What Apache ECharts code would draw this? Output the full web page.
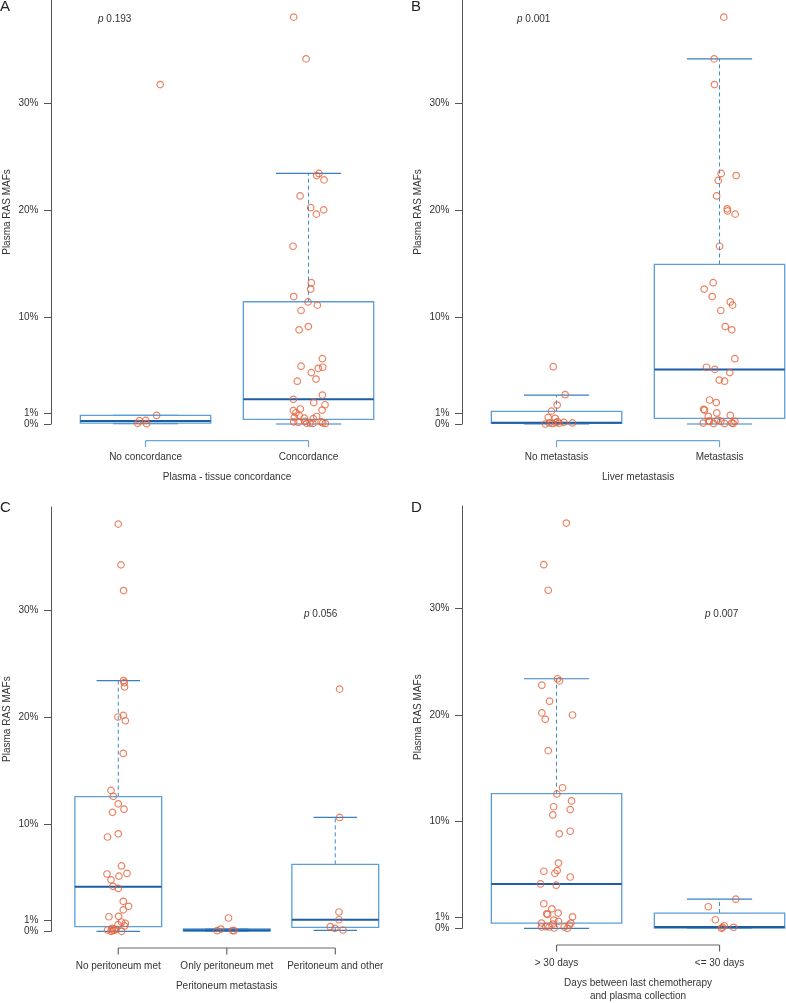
<!DOCTYPE html>
<html><head><meta charset="utf-8">
<script src="https://cdn.jsdelivr.net/npm/echarts@6/dist/echarts.min.js"></script>
<style>html,body{margin:0;padding:0;background:#fff;overflow:hidden}#c{width:840px;height:1003px}</style>
</head><body><div id="c"></div>
<script>
// ---------- DATA ----------
const yTicks = [0, 1, 10, 20, 30];
const panelLetters = ['A', 'B', 'C', 'D'];
const pValues = ['0.193', '0.001', '0.056', '0.007'];
const yAxisTitle = 'Plasma RAS MAFs';

const catsA = ['No concordance', 'Concordance'];
const titleA = 'Plasma - tissue concordance';
const valsA1 = [31.7, 0.8, 0.34, 0.31, 0.06, 0.03];
const jitA1 = [0.09, 0.068, 0.001, -0.038, -0.048, 0.007];
const valsA2 = [38.0, 34.1, 23.4, 23.2, 22.8, 21.3, 20.2, 20.0, 19.6, 16.6, 13.2, 12.6, 11.9, 11.4, 11.1, 10.6, 9.1, 8.8, 6.1, 5.4, 5.3, 5.2, 4.8, 4.2, 4.0, 2.7, 2.3, 2.0, 1.8, 1.4, 1.3, 1.25, 1.05, 0.8, 0.7, 0.6, 0.55, 0.5, 0.25, 0.2, 0.2, 0.15, 0.1, 0.1, 0.07, 0.05, 0.05];
const jitA2 = [-0.091, -0.015, 0.064, 0.05, 0.095, -0.052, 0.013, 0.093, 0.048, -0.095, 0.017, 0.013, -0.091, -0.003, 0.054, -0.046, -0.001, -0.058, 0.085, -0.046, 0.087, 0.06, 0.017, 0.046, -0.069, 0.085, -0.093, 0.032, 0.101, -0.05, 0.083, -0.093, -0.077, -0.058, 0.05, -0.087, -0.026, 0.029, -0.021, -0.091, 0.077, -0.063, 0.009, 0.087, -0.011, 0.026, 0.103];
// box stats: [low whisker, Q1, median, Q3, high whisker]
const boxA = [[0.03, 0.08, 0.28, 0.8, 0.8], [0, 0.44, 2.3, 11.42, 23.4]];

const catsB = ['No metastasis', 'Metastasis'];
const titleB = 'Liver metastasis';
const valsB1 = [5.35, 2.74, 1.77, 1.2, 0.62, 0.53, 0.22, 0.15, 0.12, 0.1, 0.1, 0.07, 0.05, 0];
const jitB1 = [-0.02, 0.053, 0.004, -0.031, -0.051, -0.008, 0.006, 0.045, -0.004, 0.098, -0.045, 0.017, -0.025, -0.069];
const valsB2 = [38.0, 34.1, 31.7, 23.4, 23.2, 22.75, 21.3, 20.1, 19.9, 19.6, 16.6, 13.2, 12.6, 11.9, 11.4, 11.1, 10.6, 9.1, 8.8, 6.1, 5.3, 5.1, 4.8, 4.1, 4.0, 2.24, 2.0, 1.37, 1.3, 1.03, 0.81, 0.72, 0.37, 0.28, 0.25, 0.25, 0.25, 0.09, 0.09, 0.05, 0.05, 0.05];
const jitB2 = [0.026, -0.033, -0.031, 0.01, 0.102, -0.008, -0.018, 0.047, 0.049, 0.096, 0, -0.039, -0.094, -0.045, 0.066, 0.08, 0.008, 0.035, 0.075, 0.094, -0.08, -0.029, 0.063, -0.002, 0.031, -0.061, -0.02, -0.098, -0.092, -0.017, 0.066, -0.069, -0.012, -0.067, 0.008, 0.094, -0.061, -0.1, 0.075, -0.037, 0.031, 0.084];
const boxB = [[0, 0.06, 0.12, 1.18, 2.7], [0, 0.53, 5.1, 14.9, 34.1]];

const catsC = ['No peritoneum met', 'Only peritoneum met', 'Peritoneum and other'];
const titleC = 'Peritoneum metastasis';
const valsC1 = [38.0, 34.2, 31.8, 23.4, 23.2, 22.8, 20.15, 20.0, 19.65, 16.6, 13.15, 12.6, 11.9, 11.4, 11.1, 9.1, 8.8, 6.1, 5.4, 5.35, 5.15, 4.8, 4.2, 4.0, 2.8, 2.33, 2.0, 1.4, 1.36, 0.87, 0.75, 0.62, 0.5, 0.28, 0.19, 0.12, 0.1, 0.07, 0, 0];
const jitC1 = [0, 0.025, 0.049, 0.049, 0.055, 0.058, 0.046, -0.003, 0.065, 0.046, -0.067, -0.046, 0, 0.053, -0.053, 0, -0.099, 0.03, 0.08, -0.104, 0.006, -0.067, -0.049, 0, 0.046, 0.095, 0.046, 0.003, -0.086, 0.03, 0.065, -0.003, 0.058, -0.058, -0.021, -0.099, -0.037, -0.053, -0.067, 0.03];
const valsC2 = [1.24, 0.21, 0.07, 0.06, 0.06];
const jitC2 = [0.016, -0.055, 0.053, -0.089, 0.067];
const valsC3 = [22.6, 10.63, 1.8, 1.08, 0.43, 0.28, 0.12];
const jitC3 = [0.04, 0.04, 0.034, 0.034, -0.046, -0.003, 0.071];
const boxC = [[0, 0.43, 4.16, 12.56, 23.4], [0, 0.02, 0.1, 0.22, 0.22], [0.09, 0.37, 1.08, 6.25, 10.63]];

const catsD = ['> 30 days', '<= 30 days'];
const titleD = 'Days between last chemotherapy\nand plasma collection';
const valsD1 = [38.0, 34.1, 31.7, 23.4, 23.2, 22.8, 21.3, 20.2, 20.0, 19.6, 16.66, 13.18, 12.6, 11.94, 11.4, 11.13, 10.63, 9.1, 8.86, 6.12, 5.41, 5.35, 5.16, 4.81, 4.16, 4.04, 2.3, 1.83, 1.43, 1.36, 1.3, 1.08, 0.77, 0.65, 0.49, 0.49, 0.4, 0.31, 0.15, 0.12, 0.12, 0.12, 0.03, 0];
const jitD1 = [0.06, -0.078, -0.051, 0.006, 0.018, -0.09, -0.043, -0.09, 0.098, -0.069, -0.051, 0.037, 0.002, 0.092, -0.018, 0.084, -0.023, 0.084, 0.017, 0.012, 0.004, -0.078, -0.01, 0.084, -0.098, -0.002, -0.078, -0.029, 0.01, -0.06, -0.055, 0.098, -0.017, 0.012, -0.092, 0.088, -0.023, 0.078, -0.066, -0.092, -0.045, 0.047, -0.014, 0.067];
const valsD2 = [2.73, 2.02, 0.8, 0.24, 0.09, 0.09, 0];
const jitD2 = [0.1, -0.069, -0.026, 0.029, 0.018, 0.086, 0.012];
const boxD = [[0, 0.49, 4.16, 12.62, 23.4], [0, 0.03, 0.12, 1.43, 2.73]];

// ---------- LAYOUT / STYLE ----------
const FONT = '"Liberation Sans", Arial, sans-serif';
const TXT = '#333';
const AX = '#555';
const BOX_C = '#5c9ed6', CAP_C = '#3a7fc0', MED_C = '#1b5ea6', DASH_C = '#3a8bd0', PT_C = '#e5623a';
const Y_MAX = 39.6;
const AX_OFF = 16.7;

const panels = [
  {cats: catsA, title: titleA, groups: [[valsA1, jitA1], [valsA2, jitA2]], box: boxA, left: 51, top: 0, h: 424, bracket: '#6aa6d6', lblMargin: 11.5, nameGap: 30.5},
  {cats: catsB, title: titleB, groups: [[valsB1, jitB1], [valsB2, jitB2]], box: boxB, left: 462, top: 0, h: 424, bracket: '#6aa6d6', lblMargin: 11.5, nameGap: 30.5},
  {cats: catsC, title: titleC, groups: [[valsC1, jitC1], [valsC2, jitC2], [valsC3, jitC3]], box: boxC, left: 51, top: 507, h: 424.3, bracket: '#666', lblMargin: 13.5, nameGap: 32},
  {cats: catsD, title: titleD, groups: [[valsD1, jitD1], [valsD2, jitD2]], box: boxD, left: 462, top: 506, h: 424.3, bracket: '#666', lblMargin: 13.5, nameGap: 32}
];

const grid = [], xAxis = [], yAxis = [], series = [];

function makeBoxRender() {
  return function (params, api) {
    const x = api.value(0), low = api.value(1), q1 = api.value(2), med = api.value(3), q3 = api.value(4), high = api.value(5);
    const pLow = api.coord([x, low]), pQ1 = api.coord([x, q1]), pMed = api.coord([x, med]), pQ3 = api.coord([x, q3]), pHigh = api.coord([x, high]);
    const w = api.size([0.8, 0])[0];
    const cx = pMed[0];
    const cw = w / 2;
    const ch = [];
    if (high > q3) {
      ch.push({type: 'line', shape: {x1: cx, y1: pQ3[1], x2: cx, y2: pHigh[1]}, style: {stroke: DASH_C, lineWidth: 1, lineDash: [4, 3]}});
    }
    if (low < q1) {
      ch.push({type: 'line', shape: {x1: cx, y1: pQ1[1], x2: cx, y2: pLow[1]}, style: {stroke: DASH_C, lineWidth: 1, lineDash: [4, 3]}});
    }
    ch.push({type: 'line', shape: {x1: cx - cw / 2, y1: pHigh[1], x2: cx + cw / 2, y2: pHigh[1]}, style: {stroke: CAP_C, lineWidth: 1.2}});
    ch.push({type: 'line', shape: {x1: cx - cw / 2, y1: pLow[1], x2: cx + cw / 2, y2: pLow[1]}, style: {stroke: CAP_C, lineWidth: 1.2}});
    ch.push({type: 'rect', shape: {x: cx - w / 2, y: pQ3[1], width: w, height: pQ1[1] - pQ3[1]}, style: {fill: 'none', stroke: BOX_C, lineWidth: 1.3}});
    ch.push({type: 'line', shape: {x1: cx - w / 2, y1: pMed[1], x2: cx + w / 2, y2: pMed[1]}, style: {stroke: MED_C, lineWidth: 2}});
    return {type: 'group', children: ch};
  };
}

function makeBracketRender(n, color) {
  return function (params, api) {
    const a = api.coord([1, 0]), b = api.coord([n, 0]);
    const y = a[1] + AX_OFF;
    const ch = [{type: 'line', shape: {x1: a[0], y1: y, x2: b[0], y2: y}, style: {stroke: color, lineWidth: 1.2}}];
    for (let k = 1; k <= n; k++) {
      const p = api.coord([k, 0]);
      ch.push({type: 'line', shape: {x1: p[0], y1: y, x2: p[0], y2: y + 6.5}, style: {stroke: color, lineWidth: 1.2}});
    }
    return {type: 'group', children: ch};
  };
}

panels.forEach((p, i) => {
  const n = p.cats.length;
  const ext = 0.04 * n;
  const xmin = 0.5 - ext, xmax = n + 0.5 + ext;
  const unitPx = n === 2 ? 163 : 108.5;
  const gw = (xmax - xmin) * unitPx;
  grid.push({left: p.left, width: gw, top: p.top, height: p.h, containLabel: false});
  const catIdx = p.cats.map((c, k) => k + 1);
  xAxis.push({
    type: 'value', gridIndex: i, min: xmin, max: xmax, position: 'bottom', offset: AX_OFF,
    axisLine: {show: false}, splitLine: {show: false},
    axisTick: {show: false},
    axisLabel: {customValues: catIdx, formatter: v => p.cats[Math.round(v) - 1] || '', margin: p.lblMargin, fontFamily: FONT, fontSize: 10, color: TXT},
    name: p.title, nameLocation: 'middle', nameGap: p.nameGap,
    nameTextStyle: {fontFamily: FONT, fontSize: 10, color: TXT, lineHeight: 12.5, align: 'center'}
  });
  yAxis.push({
    type: 'value', gridIndex: i, min: 0, max: Y_MAX,
    axisLine: {show: true, lineStyle: {color: AX, width: 1}},
    axisTick: {show: true, customValues: yTicks, length: 7, lineStyle: {color: AX, width: 1}},
    axisLabel: {customValues: yTicks, formatter: v => v + '%', margin: 12.5, fontFamily: FONT, fontSize: 10, color: TXT, showMinLabel: true, showMaxLabel: true},
    splitLine: {show: false},
    name: yAxisTitle, nameLocation: 'middle', nameGap: 39, nameRotate: 90,
    nameTextStyle: {fontFamily: FONT, fontSize: 10, color: TXT}
  });
  series.push({
    type: 'custom', xAxisIndex: i, yAxisIndex: i, clip: false, z: 2, silent: true,
    renderItem: makeBoxRender(),
    encode: {x: 0, y: [1, 2, 3, 4, 5]},
    data: p.box.map((b, k) => [k + 1].concat(b))
  });
  series.push({
    type: 'custom', xAxisIndex: i, yAxisIndex: i, clip: false, z: 2, silent: true,
    renderItem: makeBracketRender(n, p.bracket),
    encode: {x: 0, y: 1},
    data: [[1, 0]]
  });
  p.groups.forEach((g, k) => {
    const vals = g[0], jit = g[1];
    series.push({
      type: 'scatter', xAxisIndex: i, yAxisIndex: i, z: 5, silent: true, clip: false,
      symbol: 'circle', symbolSize: 6.5,
      itemStyle: {color: 'rgba(0,0,0,0)', borderColor: PT_C, borderWidth: 1.2},
      data: vals.map((v, j) => [k + 1 + jit[j], v])
    });
  });
});

const letterPos = [[0, -1], [411, -1], [0, 500], [411, 500]];
const pPos = [[98, 14], [517, 14], [304, 609], [705, 609]];
const graphic = [];
panelLetters.forEach((L, i) => {
  graphic.push({type: 'text', x: letterPos[i][0], y: letterPos[i][1], style: {text: L, font: '15px ' + FONT, fill: '#222'}});
  graphic.push({type: 'text', x: pPos[i][0], y: pPos[i][1], style: {
    text: '{i|p} ' + pValues[i], font: '10px ' + FONT, fill: TXT,
    rich: {i: {fontStyle: 'italic', fontFamily: FONT, fontSize: 10, fill: TXT}}
  }});
});

const chart = echarts.init(document.getElementById('c'), null, {renderer: 'canvas'});
chart.setOption({animation: false, backgroundColor: '#fff', grid, xAxis, yAxis, series, graphic});
</script></body></html>
